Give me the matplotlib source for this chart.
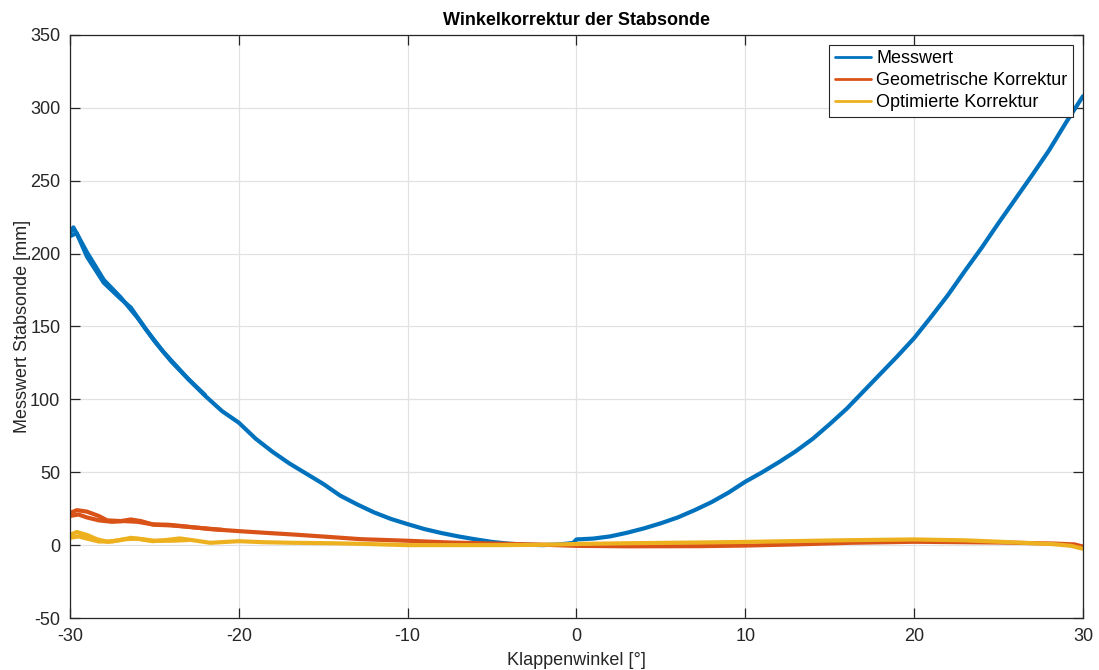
import matplotlib
matplotlib.use("Agg")
import matplotlib.pyplot as plt

# Messwert der Stabsonde über dem Klappenwinkel (Hin- und Rückweg am linken Rand)
winkel_mess = [-30, -29.8, -29, -28, -27, -26, -25, -24, -23, -22, -21, -20, -19, -18, -17,
               -16, -15, -14, -13, -12, -11, -10, -9, -8, -7, -6, -5, -4, -3, -2, -1, -0.2,
               0.0, 1, 2, 3, 4, 5, 6, 7, 8, 9, 10, 11, 12, 13, 14, 15, 16, 17, 18, 19, 20,
               21, 22, 23, 24, 25, 26, 27, 28, 29, 30]
messwert = [214, 218, 201, 182, 170, 156, 140, 126, 114, 102.5, 92, 84, 73, 64, 56,
            49, 42, 34, 28, 22.5, 18, 14.4, 11, 8.3, 6, 4, 2.2, 1, 0.3, 0, 0.5, 1.5,
            3.9, 4.5, 6, 8.5, 11.5, 15, 19, 24, 29.5, 36, 43.5, 50, 57, 64.5, 73, 83, 93.5, 105.5, 117.5, 129.5, 142,
            156.5, 171.5, 188, 204, 221, 237.5, 254, 271, 290, 308]
winkel_mess_rueck = [-30, -29.6, -29, -28, -27, -26.4, -25.5, -24.5, -23, -22]
messwert_rueck = [212, 214, 198, 180, 169, 163, 148, 133, 114, 103]

# geometrische Korrektur
winkel_geo = [-30, -29.6, -29, -28.3, -27.8, -27, -26.4, -25.8, -25.1, -24.2, -23.3, -22.5,
              -21.7, -20, -18.5, -16.8, -14.5, -12.8, -10, -7.5, -4.6, -2, 0, 3, 7.3, 10,
              13, 16.2, 20, 25, 28.2, 29.5, 30]
geo_korr = [22, 24, 23, 20, 17, 16.5, 17.6, 16.5, 14.2, 14, 13, 12,
            11, 9.6, 8.5, 7.3, 5.5, 4.1, 3.0, 1.8, 1.0, 0.3, -0.5, -0.8, -0.7, -0.3,
            0.5, 1.6, 2.3, 1.8, 1.1, 0.5, -1]
winkel_geo_rueck = [-30, -29.5, -29, -28.3, -27.5, -26.8, -26, -25, -24, -23, -22, -21]
geo_korr_rueck = [20, 21, 19, 17, 16, 16.5, 16, 14, 13.5, 12.5, 11.5, 10.5]

# optimierte Korrektur
winkel_opt = [-30, -29.6, -29, -28.4, -27.8, -27, -26.4, -25.8, -25.1, -24.3, -23.5, -22.5,
              -21.7, -20, -18.5, -16.8, -14.5, -12.8, -10, -7.5, -4.6, -2, 0, 3, 7.3, 10,
              13, 16.2, 20, 23, 25.1, 28.2, 29.3, 30]
opt_korr = [7, 9, 7, 4, 2.3, 3.5, 5, 4, 2.7, 3.5, 4.6, 3,
            1.6, 2.7, 2, 1.6, 1.3, 0.9, 0.0, 0.0, 0.0, 0.2, 0.8, 1.3, 1.8, 2.2,
            2.8, 3.4, 3.9, 3.3, 2.3, 0.7, -0.5, -2.5]
winkel_opt_rueck = [-30, -29.5, -29, -28.3, -27.5, -26.8, -26, -25, -24, -23]
opt_korr_rueck = [5, 6, 4.5, 2.5, 2.5, 4, 4.5, 3, 3, 3.5]

x_ticks = [-30, -20, -10, 0, 10, 20, 30]
y_ticks = [-50, 0, 50, 100, 150, 200, 250, 300, 350]

C_BLAU = "#0072BD"
C_ROT = "#D95319"
C_GELB = "#EDB120"

plt.rcParams["font.family"] = ["Liberation Sans", "DejaVu Sans"]
plt.rcParams["axes.unicode_minus"] = False

fig = plt.figure(figsize=(10.99, 6.70), dpi=100)
ax = fig.add_axes([0.0637, 0.0776, 0.9217, 0.8702])

lw = 3.0
kw = dict(lw=lw, solid_joinstyle="round", solid_capstyle="round")
ax.plot(winkel_mess, messwert, color=C_BLAU, label="Messwert", **kw)
ax.plot(winkel_mess_rueck, messwert_rueck, color=C_BLAU, **kw)
ax.plot(winkel_geo, geo_korr, color=C_ROT, label="Geometrische Korrektur", **kw)
ax.plot(winkel_geo_rueck, geo_korr_rueck, color=C_ROT, **kw)
ax.plot(winkel_opt, opt_korr, color=C_GELB, label="Optimierte Korrektur", **kw)
ax.plot(winkel_opt_rueck, opt_korr_rueck, color=C_GELB, **kw)

ax.set_xlim(-30, 30)
ax.set_ylim(-50, 350)
ax.set_xticks(x_ticks)
ax.set_yticks(y_ticks)
ax.grid(True, color="#e2e2e2", linewidth=0.9)
ax.set_axisbelow(True)

for spine in ax.spines.values():
    spine.set_color("#262626")
    spine.set_linewidth(0.9)
ax.tick_params(direction="in", length=7.5, width=0.9, color="#262626",
               top=True, right=True, labelsize=13, labelcolor="#262626", pad=7)

ax.set_title("Winkelkorrektur der Stabsonde", fontsize=13, fontweight="bold", pad=7)
ax.set_xlabel("Klappenwinkel [°]", fontsize=13, color="#262626", labelpad=5)
ax.set_ylabel("Messwert Stabsonde [mm]", fontsize=13, color="#262626", labelpad=-1)

leg = ax.legend(loc="upper right", fontsize=13, frameon=True, fancybox=False,
                framealpha=1, edgecolor="#262626", borderaxespad=0.55,
                handlelength=2.0, handletextpad=0.3, labelspacing=0.28, borderpad=0.3)
leg.get_frame().set_linewidth(0.8)
for line in leg.get_lines():
    line.set_linewidth(2.0)

fig.savefig("out.png", dpi=100)
